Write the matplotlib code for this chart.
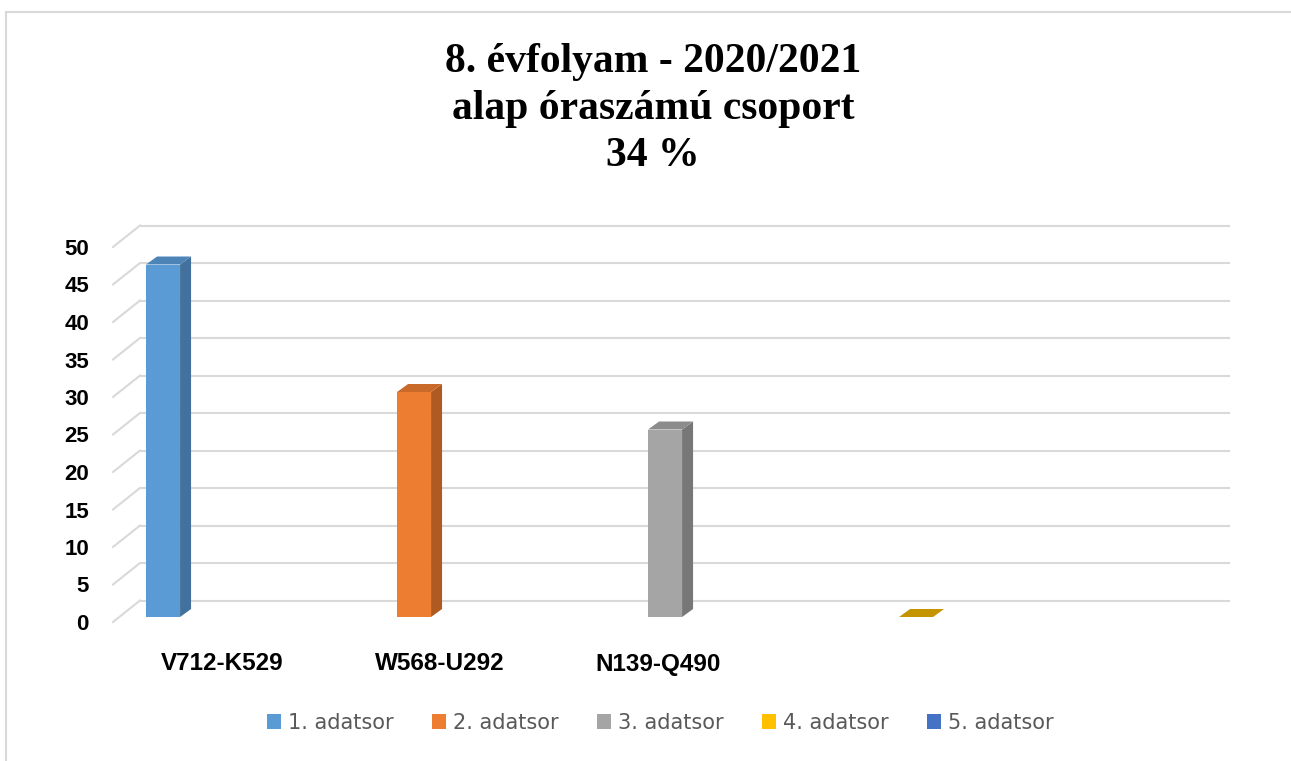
import numpy as np
import matplotlib
matplotlib.use("Agg")
import matplotlib.pyplot as plt
from matplotlib.patches import Polygon, Rectangle, Patch

# ---------------- data ----------------
title_lines = ["8. évfolyam - 2020/2021", "alap óraszámú csoport", "34 %"]
categories = ["V712-K529", "W568-U292", "N139-Q490", "", ""]
series_names = ["1. adatsor", "2. adatsor", "3. adatsor", "4. adatsor", "5. adatsor"]
series_values = [47, 30, 25, 0, np.nan]
y_ticks = list(range(0, 55, 5))

# ---------------- styles ----------------
front_colors = ["#5B9BD5", "#ED7D31", "#A5A5A5", "#FFC000", "#4472C4"]
side_colors = ["#41719C", "#AE5A21", "#777777", "#BA8C00", "#325491"]
top_colors = ["#4D84B8", "#C9692A", "#8C8C8C", "#C49500", "#3A61A7"]
grid_color = "#D9D9D9"

W, H = 1291, 761
fig = plt.figure(figsize=(W / 100, H / 100), dpi=100)

# chart border
fig.patches.append(Rectangle((6 / W, -0.01), 1.2, (H - 12) / H + 0.01,
                             transform=fig.transFigure, fill=False,
                             edgecolor="#D9D9D9", linewidth=1.5))

# axes geometry (pixels)
px_l, px_r, px_t, px_b = 100, 1240, 200, 640
x_unit, y_unit = 251.0, 7.5
x_origin, y_origin = 210.0, 617.0

ax = fig.add_axes([px_l / W, (H - px_b) / H, (px_r - px_l) / W, (px_b - px_t) / H])
ax.set_xlim((px_l - x_origin) / x_unit, (px_r - x_origin) / x_unit)
ax.set_ylim((y_origin - px_b) / y_unit, (y_origin - px_t) / y_unit)
for s in ax.spines.values():
    s.set_visible(False)
ax.patch.set_alpha(0)

# wall geometry (data units)
back_x0 = (140 - x_origin) / x_unit
back_x1 = (1230 - x_origin) / x_unit
front_x0 = (113 - x_origin) / x_unit
front_x1 = (1203 - x_origin) / x_unit
back_dy = (y_origin - 600.5) / y_unit
front_dy = (y_origin - 622.0) / y_unit

for t in y_ticks:
    ax.plot([back_x0, back_x1], [t + back_dy, t + back_dy], color=grid_color,
            lw=1.5, zorder=1, solid_capstyle="butt")
    ax.plot([front_x0, back_x0], [t + front_dy, t + back_dy], color=grid_color,
            lw=1.5, zorder=1)

# bars
bar_offset = -0.187
bar_w = 34 / x_unit
depth_dx = 11 / x_unit
depth_dy = 8 / y_unit
for i, v in enumerate(series_values):
    if np.isnan(v):
        continue
    x0 = i + bar_offset - bar_w / 2
    x1 = x0 + bar_w
    ax.add_patch(Rectangle((x0, 0), bar_w, v, facecolor=front_colors[i],
                           edgecolor="none", zorder=3))
    ax.add_patch(Polygon([(x1, 0), (x1 + depth_dx, depth_dy),
                          (x1 + depth_dx, v + depth_dy), (x1, v)],
                         closed=True, facecolor=side_colors[i], edgecolor="none", zorder=3))
    ax.add_patch(Polygon([(x0, v), (x1, v), (x1 + depth_dx, v + depth_dy),
                          (x0 + depth_dx, v + depth_dy)],
                         closed=True, facecolor=top_colors[i], edgecolor="none", zorder=4))

# y tick labels (front plane)
ax.set_yticks([t + front_dy for t in y_ticks])
ax.set_yticklabels([str(t) for t in y_ticks], fontsize=16, fontweight="bold",
                   family="Liberation Sans", color="#000000")
ax.tick_params(axis="y", length=0, pad=8)

# category labels along the front axis
n_cat = len(categories)
cat_w = (front_x1 - front_x0) / n_cat
ax.set_xticks([front_x0 + (i + 0.5) * cat_w for i in range(n_cat)])
ax.set_xticklabels(categories, fontsize=17.5, fontweight="bold",
                   family="Liberation Sans", color="#000000")
ax.tick_params(axis="x", length=0, pad=9)

# title
fig.text(653 / W, 1 - 109 / H, "\n".join(title_lines), ha="center", va="center",
         fontsize=30, fontweight="bold", family="Liberation Serif",
         linespacing=1.3, color="#000000")

# legend
handles = [Patch(facecolor=c, edgecolor="none") for c in front_colors]
leg = fig.legend(handles, series_names, loc="center", bbox_to_anchor=(660 / W, 1 - 723 / H),
                 ncol=5, frameon=False, handlelength=0.7, handleheight=0.7,
                 handletextpad=0.3, columnspacing=1.85,
                 prop={"family": "DejaVu Sans", "size": 15})
for txt in leg.get_texts():
    txt.set_color("#595959")

fig.savefig("out.png", dpi=100)
